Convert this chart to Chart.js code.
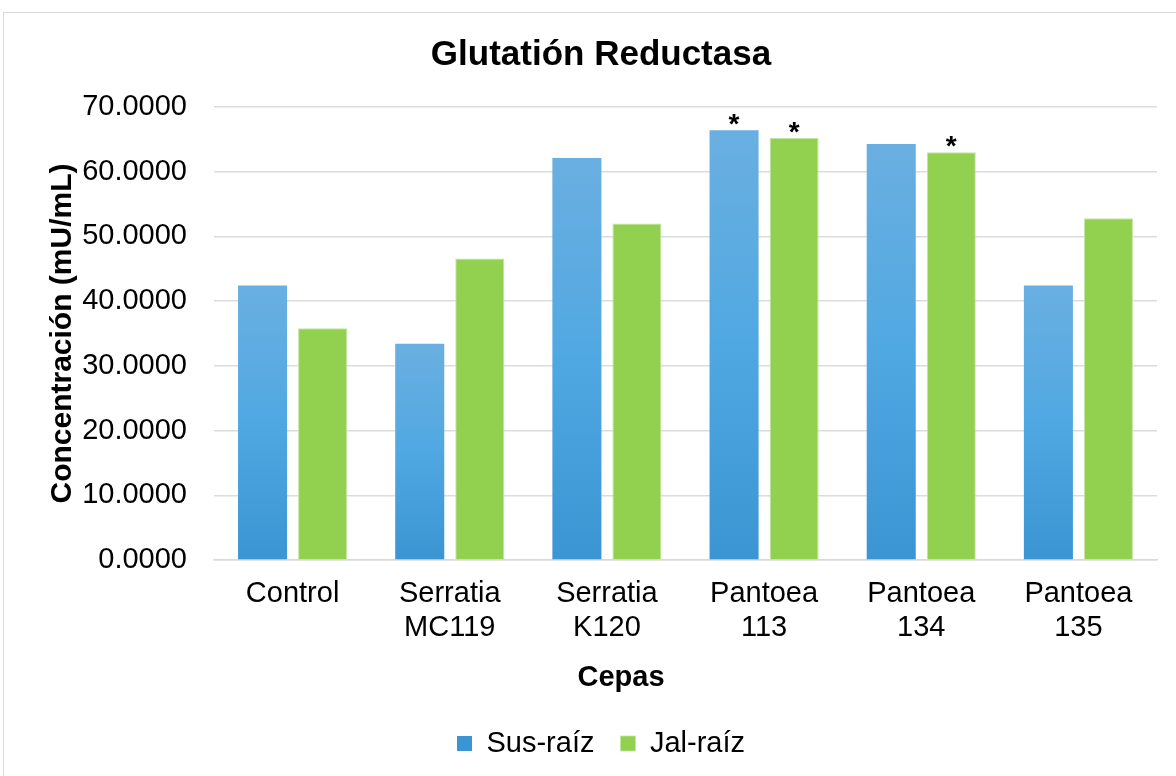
<!DOCTYPE html>
<html>
<head>
<meta charset="utf-8">
<script src="https://cdn.jsdelivr.net/npm/chart.js@4.4.1/dist/chart.umd.min.js"></script>
<style>
  html, body { margin: 0; padding: 0; background: #ffffff; }
  #wrap { position: relative; width: 1176px; height: 776px; overflow: hidden; }
  #frame { position: absolute; left: 3px; top: 12px; width: 1200px; height: 800px; border: 1px solid #d9d9d9; box-sizing: border-box; }
  canvas { position: absolute; left: 0; top: 0; }
</style>
</head>
<body>
<div id="wrap">
  <div id="frame"></div>
  <canvas id="c" width="1176" height="776"></canvas>
</div>
<script>
// ---- data ----
const categories = [["Control"], ["Serratia", "MC119"], ["Serratia", "K120"], ["Pantoea", "113"], ["Pantoea", "134"], ["Pantoea", "135"]];
const susRaiz = [42.4, 33.4, 62.1, 66.4, 64.3, 42.4];
const jalRaiz = [35.8, 46.6, 52.0, 65.2, 63.0, 52.8];
const susMarks = ["", "", "", "*", "", ""];
const jalMarks = ["", "", "", "*", "*", ""];
const yTicks = [0, 10, 20, 30, 40, 50, 60, 70];
const xTitle = "Cepas";

const FONT = "'Liberation Sans', Arial, sans-serif";

function blueGradient(context) {
  const chart = context.chart;
  const { ctx, chartArea, scales } = chart;
  if (!chartArea) return '#56a7e0';
  const v = context.raw;
  if (v === undefined || v === null) return '#56a7e0';
  const top = scales.y.getPixelForValue(v);
  const base = scales.y.getPixelForValue(0);
  if (!isFinite(top) || !isFinite(base) || top === base) return '#56a7e0';
  const g = ctx.createLinearGradient(0, top, 0, base);
  g.addColorStop(0, '#6aafe1');
  g.addColorStop(0.5, '#50a8e2');
  g.addColorStop(1, '#3a95d2');
  return g;
}

const markPlugin = {
  id: 'marks',
  afterDatasetsDraw(chart) {
    const { ctx } = chart;
    const markSets = [susMarks, jalMarks];
    ctx.save();
    ctx.font = "bold 28px " + FONT;
    ctx.fillStyle = '#000';
    ctx.textAlign = 'center';
    ctx.textBaseline = 'alphabetic';
    markSets.forEach((marks, di) => {
      const meta = chart.getDatasetMeta(di);
      meta.data.forEach((bar, i) => {
        if (marks[i]) ctx.fillText(marks[i], bar.x, bar.y + 3);
      });
    });
    // x axis title (offset left of the plot centre, as in the original)
    ctx.font = "bold 29px " + FONT;
    ctx.textBaseline = 'middle';
    ctx.fillText(xTitle, 621, 678);
    ctx.restore();
  }
};

new Chart(document.getElementById('c'), {
  type: 'bar',
  data: {
    labels: categories,
    datasets: [
      { label: 'Sus-raíz', data: susRaiz, backgroundColor: blueGradient, borderWidth: 0 },
      { label: 'Jal-raíz', data: jalRaiz, backgroundColor: '#92d050', borderColor: '#c4e6a2', borderWidth: { top: 1, left: 1, right: 1, bottom: 0 } }
    ]
  },
  options: {
    responsive: false,
    animation: false,
    devicePixelRatio: 1,
    layout: { padding: { top: 14, left: 45, right: 19, bottom: 8 } },
    datasets: { bar: { categoryPercentage: 0.764, barPercentage: 0.817 } },
    plugins: {
      title: {
        display: true,
        text: 'Glutatión Reductasa',
        color: '#000',
        font: { family: FONT, size: 35, weight: 'bold' },
        padding: { top: 20, bottom: 31 }
      },
      legend: {
        position: 'bottom',
        labels: {
          color: '#000',
          font: { family: FONT, size: 29 },
          boxWidth: 15,
          boxHeight: 15,
          padding: 26
        }
      },
      tooltip: { enabled: false }
    },
    scales: {
      x: {
        afterFit(scale) { scale.height = 143; },
        grid: { display: false, drawTicks: false, tickLength: 0 },
        border: { display: true, color: '#d9d9d9', width: 1.5 },
        ticks: { color: '#000', font: { family: FONT, size: 29, lineHeight: 1.17 }, padding: 17, maxRotation: 0, autoSkip: false },
        title: { display: false }
      },
      y: {
        min: 0,
        max: 70,
        afterBuildTicks(scale) { scale.ticks = yTicks.map(v => ({ value: v })); },
        afterFit(scale) { scale.width = 169; },
        grid: { color: '#dcdcdc', lineWidth: 1.5, drawTicks: false, tickLength: 0 },
        border: { display: false },
        ticks: { color: '#000', font: { family: FONT, size: 29 }, padding: 27, callback: v => Number(v).toFixed(4) },
        title: { display: true, text: 'Concentración (mU/mL)', color: '#000', font: { family: FONT, size: 30, weight: 'bold' }, padding: { top: 0, bottom: 0 } }
      }
    }
  },
  plugins: [markPlugin]
});
</script>
</body>
</html>
